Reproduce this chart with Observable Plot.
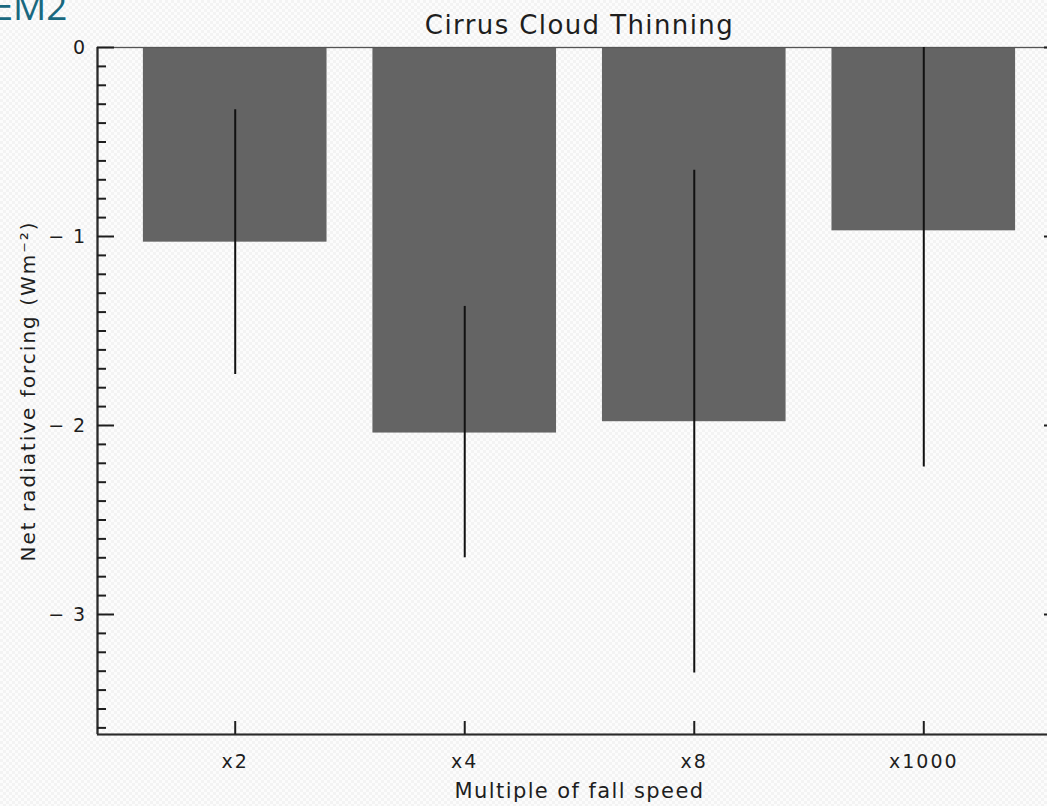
<!DOCTYPE html>
<html>
<head>
<meta charset="utf-8">
<script src="https://cdn.jsdelivr.net/npm/d3@7"></script>
<script src="https://cdn.jsdelivr.net/npm/@observablehq/plot@0.6"></script>
<style>
  html, body { margin: 0; padding: 0; overflow: hidden; width: 1047px; height: 806px; }
  body {
    background: repeating-conic-gradient(#f3f3f3 0 25%, #fcfcfc 0 50%) 0 0 / 6px 6px;
  }
  #chart svg { display: block; max-width: none; }
</style>
</head>
<body>
<div id="chart"></div>
<script>
// ---- data ----
const categories = ["x2", "x4", "x8", "x1000"];
const positions = [1, 2, 3, 4];
const forcing = [-1.03, -2.04, -1.98, -0.97];
const errLow = [-1.73, -2.70, -3.31, -2.22];
const errHigh = [-0.33, -1.37, -0.65, 0.28];
const yMajorTicks = [0, -1, -2, -3];
const yMinorTicks = d3.range(1, 37).filter(i => i % 10 !== 0).map(i => -i / 10);
const titleText = "Cirrus Cloud Thinning";
const xLabelText = "Multiple of fall speed";
const yLabelText = "Net radiative forcing (Wm⁻²)";
const cornerText = "EM2";

const data = categories.map((c, i) => ({
  cat: c, pos: positions[i], value: forcing[i], lo: errLow[i], hi: errHigh[i]
}));

// ---- layout ----
const W = 1062, H = 806;
const mL = 97, mT = 47, mB = 72, mR = 1;
const innerW = W - mL - mR, innerH = H - mT - mB;
const ink = "#1e1e1e";
const font = "DejaVu Sans, sans-serif";

const chart = Plot.plot({
  width: W,
  height: H,
  marginLeft: mL,
  marginTop: mT,
  marginBottom: mB,
  marginRight: mR,
  style: { background: "transparent", fontFamily: font, color: ink, overflow: "visible" },
  x: { type: "linear", domain: [0.4, 4.6], axis: null },
  y: { domain: [-3.635, 0], axis: null },
  marks: [
    // bars
    Plot.rect(data, { x1: d => d.pos - 0.4, x2: d => d.pos + 0.4, y1: 0, y2: "value", fill: "#646464" }),
    // frame
    Plot.frame({ stroke: "#555", strokeWidth: 1.3 }),
    Plot.ruleX([0.4], { stroke: "#2a2a2a", strokeWidth: 2.2 }),
    Plot.ruleY([-3.635], { stroke: "#2a2a2a", strokeWidth: 2.2 }),
    // error bars
    Plot.ruleX(data, { x: "pos", y1: "lo", y2: "hi", stroke: "#111", strokeWidth: 2, clip: true }),
    // left ticks (inward)
    Plot.tickY(yMajorTicks, { y: d => d, stroke: ink, strokeWidth: 2, insetRight: innerW - 17 }),
    Plot.tickY(yMinorTicks, { y: d => d, stroke: ink, strokeWidth: 2, insetRight: innerW - 9 }),
    // right ticks (inward)
    Plot.tickY(yMajorTicks, { y: d => d, stroke: ink, strokeWidth: 2, insetLeft: innerW - 17 }),
    Plot.tickY(yMinorTicks, { y: d => d, stroke: ink, strokeWidth: 2, insetLeft: innerW - 9 }),
    // bottom ticks (inward)
    Plot.tickX(positions, { x: d => d, stroke: ink, strokeWidth: 2, insetTop: innerH - 13 }),
    // y tick labels
    Plot.axisY({
      ticks: yMajorTicks, tickSize: 0, tickPadding: 11,
      tickFormat: d => d === 0 ? "0" : "− " + Math.abs(d),
      fontSize: 19, label: null, fill: ink
    }),
    // x tick labels
    Plot.axisX({
      ticks: positions, tickSize: 0, tickPadding: 20,
      tickFormat: d => categories[d - 1],
      fontSize: 19, label: null, fill: ink
    }),
    // title
    Plot.text([titleText], {
      frameAnchor: "top", dy: -14, lineAnchor: "bottom", textAnchor: "middle",
      fontSize: 26, fill: ink, fontFamily: font
    }),
    // x label
    Plot.text([xLabelText], {
      frameAnchor: "bottom", dy: 63, lineAnchor: "bottom", textAnchor: "middle",
      fontSize: 21, fill: ink, fontFamily: font
    }),
    // y label
    Plot.text([yLabelText], {
      frameAnchor: "left", dx: -69, dy: 0, rotate: -90, lineAnchor: "middle", textAnchor: "middle",
      fontSize: 20, fill: ink, fontFamily: font
    }),
    // corner slide text
    Plot.text([cornerText], {
      frameAnchor: "top-left", dx: -105, dy: -28, lineAnchor: "bottom", textAnchor: "start",
      fontSize: 37, fill: "#19687f", fontFamily: "Open Sans, DejaVu Sans, sans-serif"
    })
  ]
});

// letter spacing to mimic the wide vector font of the original
d3.select(chart).selectAll("text").each(function () {
  const t = this.textContent;
  if (t === cornerText) return;
  let ls = 1.4;
  if (t === yLabelText) ls = 2;
  if (categories.includes(t)) ls = 2;
  this.style.letterSpacing = ls + "px";
});

document.getElementById("chart").appendChild(chart);
</script>
</body>
</html>
